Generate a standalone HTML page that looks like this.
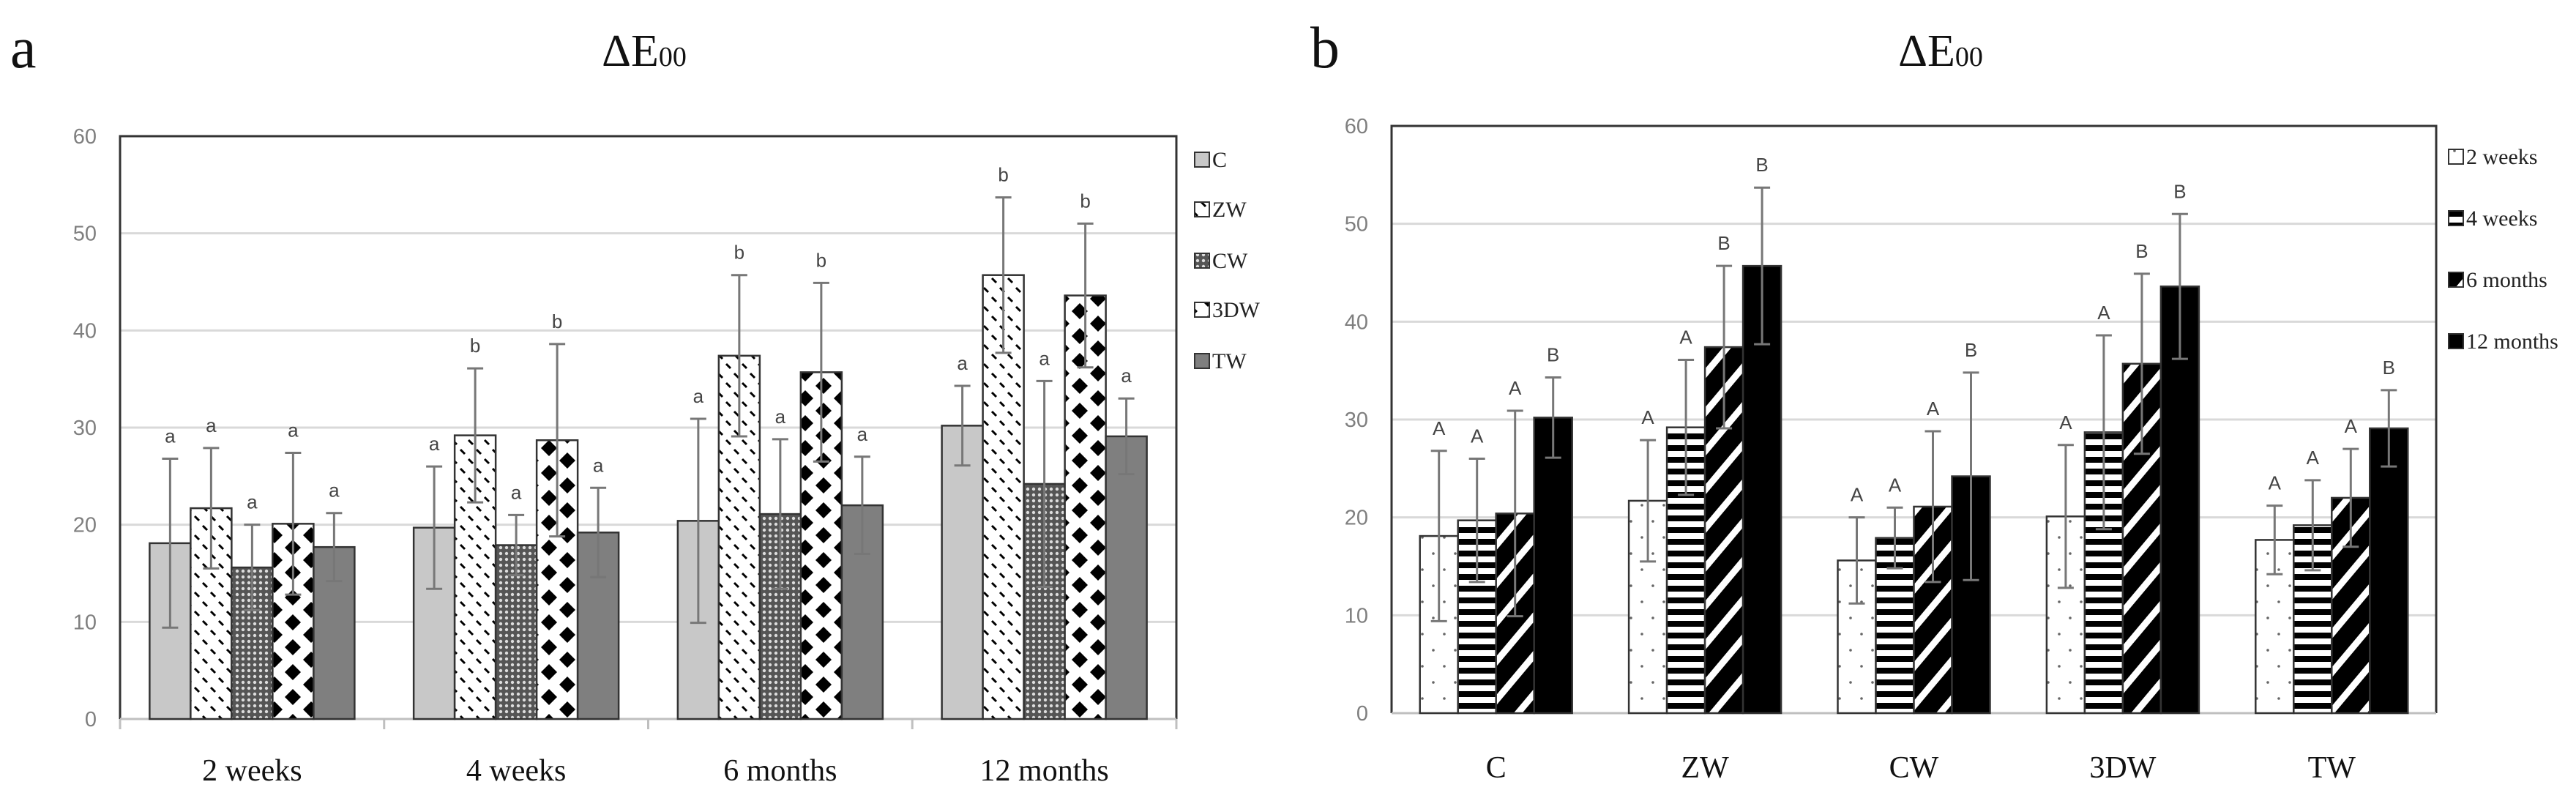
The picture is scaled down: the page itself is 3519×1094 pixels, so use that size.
<!DOCTYPE html>
<html><head><meta charset="utf-8">
<style>
html,body{margin:0;padding:0;background:#fff;}
svg{display:block;}
</style></head>
<body>
<svg id="chart" width="3519" height="1094" viewBox="0 0 3519 1094" xmlns="http://www.w3.org/2000/svg">
<defs>
  <pattern id="pZW" width="22" height="26" patternUnits="userSpaceOnUse">
    <rect width="22" height="26" fill="#fff"/>
    <line x1="2" y1="3" x2="8" y2="9" stroke="#000" stroke-width="3"/>
    <line x1="13" y1="16" x2="19" y2="22" stroke="#000" stroke-width="3"/>
  </pattern>
  <pattern id="pCW" width="8" height="8" patternUnits="userSpaceOnUse">
    <rect width="8" height="8" fill="#555"/>
    <circle cx="4" cy="4" r="2.2" fill="#ddd"/>
  </pattern>
  <pattern id="pDW" width="50" height="34" patternUnits="userSpaceOnUse">
    <rect width="50" height="34" fill="#fff"/>
    <polygon points="25,6 36,17 25,28 14,17" fill="#000"/>
    <polygon points="0,-11 11,0 0,11 -11,0" fill="#000"/>
    <polygon points="50,-11 61,0 50,11 39,0" fill="#000"/>
    <polygon points="0,23 11,34 0,45 -11,34" fill="#000"/>
    <polygon points="50,23 61,34 50,45 39,34" fill="#000"/>
  </pattern>
  <pattern id="p2w" width="30" height="44" patternUnits="userSpaceOnUse">
    <rect width="30" height="44" fill="#fff"/>
    <circle cx="8" cy="8" r="1.8" fill="#666"/>
    <circle cx="23" cy="30" r="1.8" fill="#666"/>
  </pattern>
  <pattern id="p4w" width="16" height="16" patternUnits="userSpaceOnUse">
    <rect width="16" height="16" fill="#fff"/>
    <rect y="0" width="16" height="8" fill="#000"/>
  </pattern>
  <pattern id="p6m" width="34" height="34" patternUnits="userSpaceOnUse" patternTransform="rotate(40)">
    <rect width="34" height="34" fill="#000"/>
    <rect x="0" y="0" width="9" height="34" fill="#fff"/>
  </pattern>
</defs>
<g id="panelA"></g>
<g id="panelB"></g>
</svg>
<script>
const catsA = ["2 weeks","4 weeks","6 months","12 months"];
const seriesA = ["C","ZW","CW","3DW","TW"];
const valC  = [18.1,19.7,20.4,30.2];
const valZW = [21.7,29.2,37.4,45.7];
const valCW = [15.6,17.9,21.1,24.2];
const valDW = [20.1,28.7,35.7,43.6];
const valTW = [17.7,19.2,22.0,29.1];
const errC  = [8.7,6.3,10.5,4.1];
const errZW = [6.2,6.9,8.3,8.0];
const errCW = [4.4,3.1,7.7,10.6];
const errDW = [7.3,9.9,9.2,7.4];
const errTW = [3.5,4.6,5.0,3.9];
const letC  = ["a","a","a","a"];
const letZW = ["a","b","b","b"];
const letCW = ["a","a","a","a"];
const letDW = ["a","b","b","b"];
const letTW = ["a","a","a","a"];
const catsB = ["C","ZW","CW","3DW","TW"];
const seriesB = ["2 weeks","4 weeks","6 months","12 months"];
const letB2w = ["A","A","A","A","A"];
const letB4w = ["A","A","A","A","A"];
const letB6m = ["A","B","A","B","A"];
const letB12m = ["B","B","B","B","B"];
const yTicks = [0,10,20,30,40,50,60];

const NS = "http://www.w3.org/2000/svg";
function mk(parent, tag, attrs, text){
  const e = document.createElementNS(NS, tag);
  for (const k in attrs) e.setAttribute(k, attrs[k]);
  if (text !== undefined) e.textContent = text;
  parent.appendChild(e);
  return e;
}

function drawPanel(g, o){
  const yS = v => o.bottom - (v/60)*(o.bottom-o.top);
  const cw = (o.right-o.left)/o.cats.length;
  yTicks.forEach(t=>{
    if(t>0 && t<60){
      const l = mk(g,"line",{x1:o.left,x2:o.right,y1:yS(t),y2:yS(t),stroke:"#d9d9d9","stroke-width":3});
      
      
    }
    const tl = mk(g,"text",{x:o.left-32,y:yS(t)+10,"text-anchor":"end","font-family":"Liberation Sans, sans-serif","font-size":29,fill:"#7f7f7f"},String(t));
    
    
  });
  const fr = mk(g,"path",{d:`M${o.left},${o.bottom} L${o.left},${o.top} L${o.right},${o.top} L${o.right},${o.bottom}`,fill:"none",stroke:"#333","stroke-width":3});
  
  
  const ax = mk(g,"line",{x1:o.left,x2:o.right,y1:o.bottom,y2:o.bottom,stroke:"#bfbfbf","stroke-width":3});
  
  
  if(o.ticks){
    for(let i=0;i<=o.cats.length;i++){
      const tk = mk(g,"line",{x1:o.left+i*cw,x2:o.left+i*cw,y1:o.bottom,y2:o.bottom+14,stroke:"#bfbfbf","stroke-width":3});
      
      
    }
  }
  const n = o.series.length;
  const bw = o.barW;
  o.cats.forEach((c,i)=>{
    const cx = o.left + (i+0.5)*cw;
    const x0 = cx - n*bw/2;
    for(let s=0;s<n;s++){
      const v = o.vals[s][i], e = o.errs[s][i];
      const x = x0 + s*bw;
      const r = mk(g,"rect",{x:x,y:yS(v),width:bw,height:yS(0)-yS(v),fill:o.fills[s],stroke:"#333","stroke-width":2.5});
      
      
      const ex = x + bw/2;
      const eb = mk(g,"path",{d:`M${ex},${yS(v-e)} L${ex},${yS(v+e)} M${ex-11},${yS(v-e)} L${ex+11},${yS(v-e)} M${ex-11},${yS(v+e)} L${ex+11},${yS(v+e)}`,stroke:"#777","stroke-width":3,fill:"none"});
      
      
      const lt = mk(g,"text",{x:ex,y:yS(v+e)-22,"text-anchor":"middle","font-family":"Liberation Sans, sans-serif","font-size":26,fill:"#444"},o.lets[s][i]);
      
      
    }
    const cl = mk(g,"text",{x:cx,y:o.catY,"text-anchor":"middle","font-family":"Liberation Serif, serif","font-size":42,fill:"#111"},c);
    
    
  });
  o.series.forEach((s,k)=>{
    const ly = o.legY[k];
    const sw = mk(g,"rect",{x:o.legX,y:ly-20,width:20,height:20,fill:o.fills[k],stroke:"#333","stroke-width":2});
    
    
    const lt = mk(g,"text",{x:o.legX+24,y:ly,"font-family":"Liberation Serif, serif","font-size":30,fill:"#222"},s);
    
    
  });
  const t = mk(g,"text",{x:o.titleX,y:90,"text-anchor":"middle","font-family":"Liberation Serif, serif","font-size":62,fill:"#111"});
  
  
  mk(t,"tspan",{},"ΔE");
  mk(t,"tspan",{"font-size":38},"00");
  const pl = mk(g,"text",{x:o.labX,y:92,"font-family":"Liberation Serif, serif","font-size":80,fill:"#111"},o.panel);
  
  
}

drawPanel(document.getElementById('panelA'),{
  left:164,right:1607,top:186,bottom:982,cats:catsA,series:seriesA,barW:56,ticks:true,
  vals:[valC,valZW,valCW,valDW,valTW],errs:[errC,errZW,errCW,errDW,errTW],
  lets:[letC,letZW,letCW,letDW,letTW],
  fills:["#c8c8c8","url(#pZW)","url(#pCW)","url(#pDW)","#7f7f7f"],
  catY:1066,legX:1632,legY:[228,296,366,433,503],titleX:880,labX:14,panel:"a"
});
drawPanel(document.getElementById('panelB'),{
  left:1901,right:3328,top:172,bottom:974,cats:catsB,series:seriesB,barW:52,ticks:false,
  vals:[[valC[0],valZW[0],valCW[0],valDW[0],valTW[0]],[valC[1],valZW[1],valCW[1],valDW[1],valTW[1]],[valC[2],valZW[2],valCW[2],valDW[2],valTW[2]],[valC[3],valZW[3],valCW[3],valDW[3],valTW[3]]],
  errs:[[errC[0],errZW[0],errCW[0],errDW[0],errTW[0]],[errC[1],errZW[1],errCW[1],errDW[1],errTW[1]],[errC[2],errZW[2],errCW[2],errDW[2],errTW[2]],[errC[3],errZW[3],errCW[3],errDW[3],errTW[3]]],
  lets:[letB2w,letB4w,letB6m,letB12m],
  fills:["url(#p2w)","url(#p4w)","url(#p6m)","#000"],
  catY:1062,legX:3345,legY:[224,308,392,476],titleX:2651,labX:1790,panel:"b"
});
</script>
</body></html>
